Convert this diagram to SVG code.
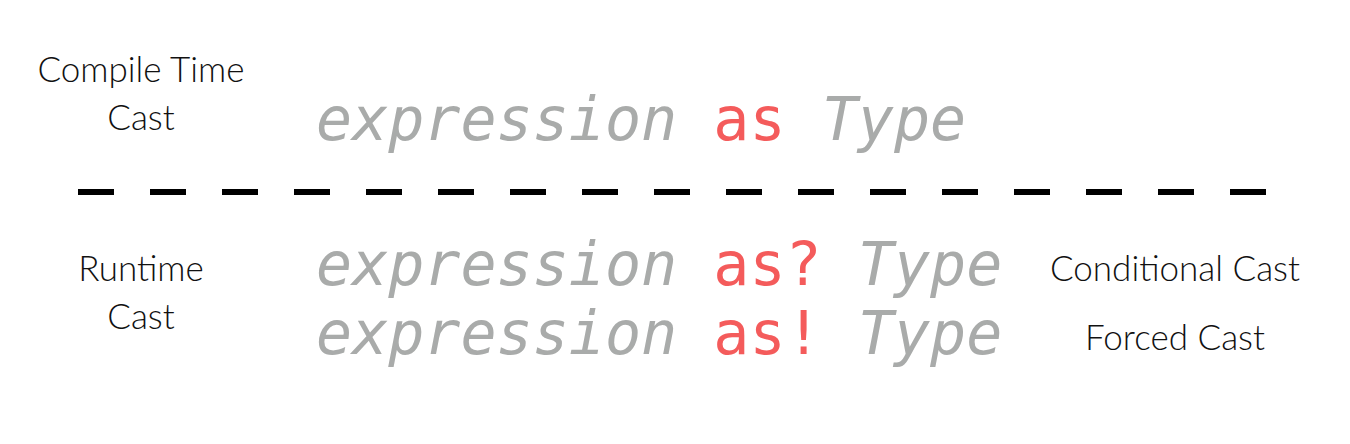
<svg xmlns="http://www.w3.org/2000/svg" width="1350" height="444" viewBox="0 0 1350 444">
<style>
.lbl{font-family:Lato,"Open Sans","Liberation Sans",sans-serif;font-weight:300;font-size:35px;fill:#111;text-anchor:middle}
.code{font-family:"DejaVu Sans Mono",monospace;font-style:italic;font-size:60px;fill:#a9abaa}
.kw{font-style:normal;fill:#f45b5b}
</style>
<rect width="1350" height="444" fill="#fff"/>
<g id="compile-label"><text class="lbl" x="141" y="82">Compile Time</text><text class="lbl" x="141" y="130">Cast</text></g>
<g id="compile-code"><text class="code" x="316" y="140" xml:space="preserve">expression <tspan class="kw">as</tspan> Type</text></g>
<g id="connectors"><line x1="78" y1="192" x2="1268" y2="192" stroke="#000" stroke-width="6" stroke-dasharray="36 36"/></g>
<g id="runtime-label"><text class="lbl" x="141" y="281">Runtime</text><text class="lbl" x="141" y="329">Cast</text></g>
<g id="conditional-code"><text class="code" x="316" y="285" xml:space="preserve">expression <tspan class="kw">as?</tspan> Type</text></g>
<g id="forced-code"><text class="code" x="316" y="354" xml:space="preserve">expression <tspan class="kw">as!</tspan> Type</text></g>
<g id="conditional-label"><text class="lbl" x="1175" y="281">Conditional Cast</text></g>
<g id="forced-label"><text class="lbl" x="1175" y="350">Forced Cast</text></g>
</svg>
